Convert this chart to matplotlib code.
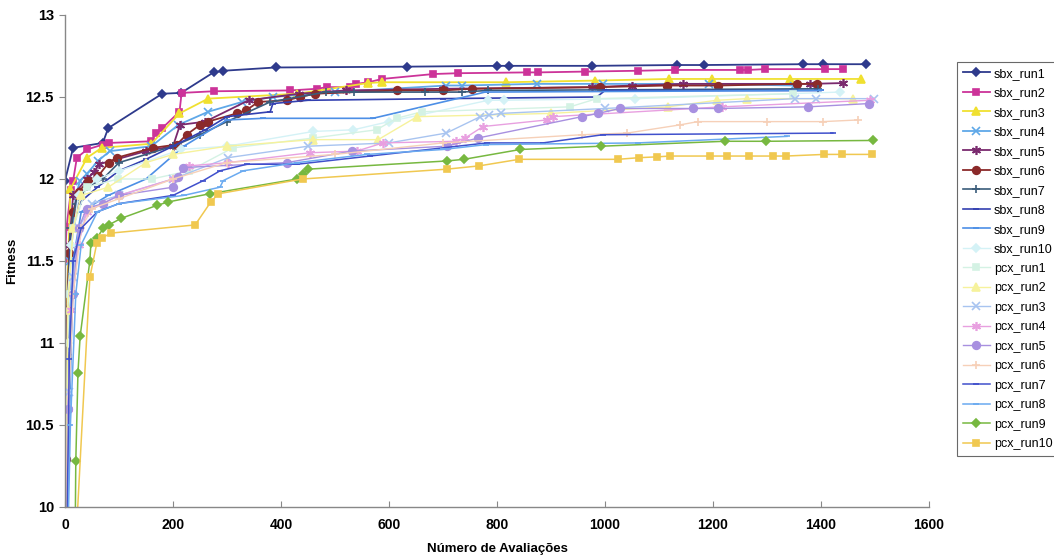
import matplotlib
matplotlib.use('Agg')
import matplotlib.pyplot as plt
from matplotlib.ticker import FormatStrFormatter

plt.rcParams['font.family'] = ['Liberation Sans', 'DejaVu Sans']

# values (x = evaluations, y = fitness)
sbx_run1_x = [0, 0, 15, 70, 80, 180, 215, 275, 293, 390, 633, 800, 822, 976, 1133, 1183, 1367, 1404, 1483]
sbx_run1_y = [9.0, 11.99, 12.19, 12.22, 12.31, 12.52, 12.525, 12.65, 12.66, 12.68, 12.685, 12.69, 12.69, 12.69, 12.695, 12.695, 12.70, 12.70, 12.70]

sbx_run2_x = [0, 0, 0, 0, 3, 11, 15, 22, 41, 70, 82, 160, 168, 180, 212, 216, 275, 417, 466, 485, 527, 539,
              562, 587, 682, 727, 856, 876, 963, 1061, 1130, 1250, 1265, 1296, 1407, 1440]
sbx_run2_y = [9.0, 10.08, 11.27, 11.51, 11.71, 11.93, 11.99, 12.13, 12.18, 12.21, 12.22, 12.23, 12.28, 12.31, 12.41,
              12.525, 12.535, 12.54, 12.55, 12.56, 12.56, 12.58, 12.59, 12.61, 12.64, 12.645, 12.65, 12.65, 12.655,
              12.66, 12.665, 12.665, 12.665, 12.67, 12.67, 12.67]

sbx_run3_x = [0, 4, 10, 41, 68, 160, 212, 265, 430, 561, 587, 817, 981, 1118, 1198, 1342, 1474]
sbx_run3_y = [9.0, 11.3, 11.94, 12.13, 12.19, 12.215, 12.40, 12.49, 12.52, 12.585, 12.59, 12.59, 12.60, 12.61,
              12.61, 12.61, 12.61]

sbx_run4_x = [0, 10, 20, 28, 40, 61, 83, 160, 210, 265, 328, 385, 500, 706, 735, 874, 996, 1193, 1350]
sbx_run4_y = [9.0, 11.5, 11.9, 11.99, 12.03, 12.11, 12.17, 12.20, 12.33, 12.41, 12.47, 12.50, 12.53, 12.57, 12.57,
              12.58, 12.58, 12.58, 12.57]

sbx_run5_x = [0, 3, 8, 15, 40, 54, 63, 150, 200, 213, 260, 340, 433, 520, 700, 975, 1050, 1144, 1380, 1440]
sbx_run5_y = [9.0, 10.92, 11.6, 11.9, 12.0, 12.04, 12.09, 12.17, 12.2, 12.33, 12.35, 12.48, 12.52, 12.54, 12.55,
              12.56, 12.57, 12.58, 12.58, 12.585]

sbx_run6_x = [0, 1, 2, 4, 8, 15, 25, 43, 62, 81, 96, 163, 207, 225, 250, 265, 318, 336, 358, 411, 435, 463, 614,
              700, 753, 990, 1115, 1209, 1355, 1393]
sbx_run6_y = [9.0, 10.29, 10.6, 11.2, 11.55, 11.8, 11.92, 11.99, 12.02, 12.10, 12.13, 12.19, 12.21, 12.27, 12.33,
              12.35, 12.40, 12.42, 12.47, 12.48, 12.50, 12.52, 12.54, 12.54, 12.55, 12.56, 12.57, 12.57, 12.58, 12.58]

sbx_run7_x = [0, 5, 10, 20, 40, 70, 100, 200, 250, 300, 380, 483, 535, 667, 735, 783, 1394]
sbx_run7_y = [9.0, 11.2, 11.7, 11.85, 11.95, 12.0, 12.1, 12.2, 12.27, 12.35, 12.47, 12.53, 12.53, 12.53, 12.53,
              12.54, 12.55]

sbx_run8_x = [0, 5, 10, 25, 60, 100, 150, 200, 260, 300, 380, 385, 450, 700, 985, 1000, 1400]
sbx_run8_y = [9.0, 10.9, 11.6, 11.85, 11.95, 12.05, 12.12, 12.2, 12.3, 12.38, 12.41, 12.46, 12.48, 12.49, 12.50,
              12.54, 12.54]

sbx_run9_x = [0, 8, 15, 30, 80, 150, 220, 300, 367, 570, 778, 1400]
sbx_run9_y = [9.0, 10.5, 11.5, 11.8, 11.9, 12.0, 12.2, 12.36, 12.37, 12.37, 12.53, 12.54]

sbx_run10_x = [0, 5, 12, 25, 60, 100, 215, 300, 460, 534, 600, 784, 813, 1056, 1435]
sbx_run10_y = [9.0, 11.0, 11.6, 11.9, 12.0, 12.05, 12.18, 12.2, 12.29, 12.30, 12.35, 12.48, 12.48, 12.49, 12.53]

pcx_run1_x = [0, 5, 15, 40, 98, 161, 230, 311, 460, 577, 614, 661, 935, 985, 1348]
pcx_run1_y = [9.0, 11.3, 11.7, 11.95, 12.0, 12.0, 12.05, 12.19, 12.25, 12.30, 12.37, 12.41, 12.44, 12.49, 12.52]

pcx_run2_x = [0, 5, 15, 30, 80, 150, 200, 300, 459, 580, 652, 900, 1117, 1207, 1263, 1459]
pcx_run2_y = [9.0, 11.2, 11.7, 11.9, 11.95, 12.1, 12.15, 12.2, 12.24, 12.24, 12.38, 12.4, 12.44, 12.48, 12.49, 12.49]

pcx_run3_x = [0, 8, 15, 25, 50, 100, 200, 302, 450, 600, 706, 769, 785, 807, 1000, 1352, 1390, 1498]
pcx_run3_y = [9.0, 10.7, 11.4, 11.7, 11.85, 11.9, 12.0, 12.13, 12.20, 12.22, 12.28, 12.38, 12.39, 12.40, 12.43,
              12.49, 12.49, 12.49]

pcx_run4_x = [0, 5, 12, 25, 40, 100, 200, 230, 302, 453, 540, 589, 724, 741, 774, 892, 903, 1217, 1491]
pcx_run4_y = [9.0, 10.6, 11.2, 11.6, 11.8, 11.9, 12.0, 12.08, 12.10, 12.16, 12.17, 12.22, 12.23, 12.25, 12.32,
              12.36, 12.38, 12.44, 12.48]

pcx_run5_x = [0, 6, 15, 25, 40, 70, 100, 200, 209, 219, 411, 531, 707, 765, 957, 987, 1028, 1163, 1209, 1376, 1489]
pcx_run5_y = [9.0, 10.6, 11.3, 11.7, 11.82, 11.85, 11.9, 11.95, 12.01, 12.07, 12.10, 12.17, 12.20, 12.25, 12.38,
              12.40, 12.43, 12.43, 12.43, 12.44, 12.46]

pcx_run6_x = [0, 5, 15, 30, 50, 100, 200, 300, 500, 700, 957, 1041, 1139, 1172, 1300, 1404, 1469]
pcx_run6_y = [9.0, 10.5, 11.3, 11.7, 11.82, 11.88, 12.0, 12.1, 12.15, 12.22, 12.27, 12.28, 12.33, 12.35, 12.35,
              12.35, 12.36]

pcx_run7_x = [0, 8, 15, 30, 60, 100, 200, 256, 287, 337, 430, 565, 781, 885, 996, 1422]
pcx_run7_y = [9.0, 10.9, 11.5, 11.7, 11.8, 11.85, 11.9, 11.99, 12.05, 12.09, 12.09, 12.14, 12.22, 12.22, 12.27, 12.28]

pcx_run8_x = [0, 10, 20, 30, 60, 100, 220, 287, 293, 330, 430, 560, 700, 780, 1061, 1337]
pcx_run8_y = [9.0, 10.5, 11.3, 11.6, 11.8, 11.85, 11.9, 11.95, 11.99, 12.05, 12.1, 12.15, 12.18, 12.21, 12.22, 12.26]

pcx_run9_x = [18, 20, 24, 28, 46, 48, 59, 71, 81, 104, 171, 191, 268, 430, 441, 450, 707, 739, 843, 993, 1222,
              1298, 1496]
pcx_run9_y = [9.5, 10.28, 10.82, 11.04, 11.50, 11.61, 11.64, 11.70, 11.72, 11.76, 11.84, 11.86, 11.91, 12.00,
              12.03, 12.06, 12.11, 12.12, 12.18, 12.20, 12.23, 12.23, 12.235]

pcx_run10_x = [22, 46, 59, 68, 85, 241, 270, 284, 440, 707, 767, 841, 1024, 1063, 1096, 1120, 1194, 1226, 1267,
               1311, 1335, 1406, 1439, 1494]
pcx_run10_y = [9.9, 11.40, 11.61, 11.64, 11.67, 11.72, 11.86, 11.91, 12.00, 12.06, 12.08, 12.12, 12.12, 12.13,
               12.135, 12.14, 12.14, 12.14, 12.14, 12.14, 12.14, 12.15, 12.15, 12.15]

series = [
    ('sbx_run1', sbx_run1_x, sbx_run1_y, '#2E3A8C', 'D', 4.5, 1.3),
    ('sbx_run2', sbx_run2_x, sbx_run2_y, '#CC3399', 's', 5, 1.3),
    ('sbx_run3', sbx_run3_x, sbx_run3_y, '#F0E030', '^', 5.5, 1.3),
    ('sbx_run4', sbx_run4_x, sbx_run4_y, '#5FA8E8', 'x', 5.5, 1.3),
    ('sbx_run5', sbx_run5_x, sbx_run5_y, '#7A2A6E', (6, 2, 0), 6.5, 1.3),
    ('sbx_run6', sbx_run6_x, sbx_run6_y, '#8B2A2A', 'o', 5.5, 1.3),
    ('sbx_run7', sbx_run7_x, sbx_run7_y, '#3A5C7A', '+', 6, 1.2),
    ('sbx_run8', sbx_run8_x, sbx_run8_y, '#3340B0', '_', 5, 1.2),
    ('sbx_run9', sbx_run9_x, sbx_run9_y, '#4D8FE6', '_', 5, 1.2),
    ('sbx_run10', sbx_run10_x, sbx_run10_y, '#D4F2F6', 'D', 4.5, 1.0),
    ('pcx_run1', pcx_run1_x, pcx_run1_y, '#D4F2E4', 's', 5, 1.0),
    ('pcx_run2', pcx_run2_x, pcx_run2_y, '#F6F29C', '^', 5.5, 1.0),
    ('pcx_run3', pcx_run3_x, pcx_run3_y, '#A8C4F0', 'x', 5.5, 1.0),
    ('pcx_run4', pcx_run4_x, pcx_run4_y, '#E8A0E0', (6, 2, 0), 6.5, 1.0),
    ('pcx_run5', pcx_run5_x, pcx_run5_y, '#A890E0', 'o', 5.5, 1.0),
    ('pcx_run6', pcx_run6_x, pcx_run6_y, '#F6D0B8', '+', 6, 1.0),
    ('pcx_run7', pcx_run7_x, pcx_run7_y, '#4050CC', '_', 5, 1.1),
    ('pcx_run8', pcx_run8_x, pcx_run8_y, '#6AAAF0', '_', 5, 1.1),
    ('pcx_run9', pcx_run9_x, pcx_run9_y, '#77B840', 'D', 4.5, 1.1),
    ('pcx_run10', pcx_run10_x, pcx_run10_y, '#F0C850', 's', 5, 1.1),
]

fig = plt.figure(figsize=(10.54, 5.59), dpi=100)
ax = fig.add_axes([65 / 1054, 1 - 507 / 559, 864 / 1054, 492 / 559])

for name, xs, ys, col, mk, ms, lw in series:
    ax.plot(xs, ys, color=col, marker=mk, markersize=ms, linewidth=lw,
            markeredgecolor=col, markerfacecolor=col, markeredgewidth=1.2, label=name)

ax.set_xlim(0, 1600)
ax.set_ylim(10, 13)
ax.set_xticks(range(0, 1601, 200))
ax.set_yticks([10, 10.5, 11, 11.5, 12, 12.5, 13])
ax.yaxis.set_major_formatter(FormatStrFormatter('%g'))
for s in ['top', 'right']:
    ax.spines[s].set_visible(False)
for s in ['left', 'bottom']:
    ax.spines[s].set_color('#888888')
    ax.spines[s].set_linewidth(1.0)
ax.tick_params(axis='x', direction='in', length=4, color='#888888', labelsize=10, pad=8)
ax.tick_params(axis='y', direction='out', length=4, color='#888888', labelsize=10.5, pad=4)
for lab in ax.get_xticklabels() + ax.get_yticklabels():
    lab.set_fontweight('bold')

ax.set_xlabel('Número de Avaliações', fontsize=9.5, fontweight='bold', labelpad=8)
ax.set_ylabel('Fitness', fontsize=9.5, fontweight='bold', labelpad=5)

leg = fig.legend(loc='upper left', bbox_to_anchor=(957 / 1054, 1 - 62 / 559), fontsize=9,
                 frameon=True, fancybox=False, edgecolor='#444444', borderpad=0.45,
                 labelspacing=0.6, handlelength=2.2, handletextpad=0.3, borderaxespad=0)
leg.get_frame().set_linewidth(0.8)

fig.savefig('out.png', dpi=100)
